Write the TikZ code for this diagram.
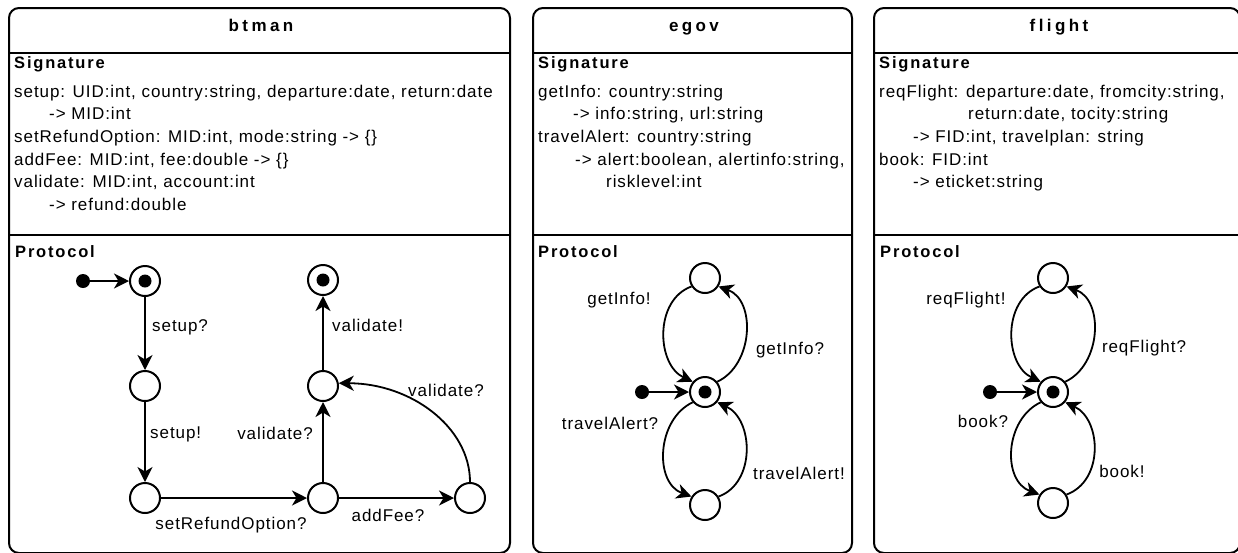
\documentclass[tikz,border=0pt]{standalone}
\usepackage{fontspec}
\setmainfont{Liberation Sans}[LetterSpace=5.5]
\usetikzlibrary{arrows.meta}
\begin{document}
\begin{tikzpicture}[x=1pt,y=1pt,
  boxline/.style={line width=2pt},
  txt/.style={anchor=west, inner sep=0pt, text height=12pt, text depth=3.5pt, font=\fontsize{17}{20}\selectfont},
  hd/.style={anchor=west, inner sep=0pt, text height=12pt, text depth=3.5pt, font=\fontsize{16.5}{20}\selectfont\bfseries\addfontfeature{LetterSpace=11}},
  ttl/.style={inner sep=0pt, text height=12pt, text depth=3.5pt, font=\fontsize{17}{20}\selectfont\bfseries\addfontfeature{LetterSpace=20}},
  lbl/.style={inner sep=0pt, text height=12pt, text depth=3.5pt, font=\fontsize{17}{20}\selectfont},
  stnode/.style={circle, draw, line width=2pt, minimum size=30pt, inner sep=0pt},
  fin/.style={stnode, path picture={\fill (path picture bounding box.center) circle (6.5pt);}},
  ini/.style={circle, fill, minimum size=14pt, inner sep=0pt},
  arr/.style={-{Stealth[length=15pt,width=15pt,inset=4.5pt]}, line width=1.8pt}
]
\useasboundingbox (0,-552) rectangle (1238,0);

% ---------- boxes ----------
\draw[boxline, rounded corners=10pt] (9,-8) rectangle (510,-553);
\draw[boxline] (9,-53) -- (510,-53);
\draw[boxline] (9,-235) -- (510,-235);

\draw[boxline, rounded corners=10pt] (533,-8) rectangle (852,-553);
\draw[boxline] (533,-53) -- (852,-53);
\draw[boxline] (533,-235) -- (852,-235);

\draw[boxline, rounded corners=10pt] (874,-8) rectangle (1240,-553);
\draw[boxline] (874,-53) -- (1240,-53);
\draw[boxline] (874,-235) -- (1240,-235);

% ---------- btman text ----------
\node[ttl] (t1) at (261,-27) {btman};
\node[hd] (sg1) at (14,-64) {Signature};
\node[txt] (l11) at (14,-93) {setup: UID:int, country:string, departure:date, return:date};
\node[txt] (l12) at (49,-115.6) {-> MID:int};
\node[txt] (l13) at (14,-138.2) {setRefundOption: MID:int, mode:string -> \{\}};
\node[txt] (l14) at (14,-160.8) {addFee: MID:int, fee:double -> \{\}};
\node[txt] (l15) at (14,-183.4) {validate: MID:int, account:int};
\node[txt] (l16) at (49,-206) {-> refund:double};
\node[hd] (pr1) at (15,-253) {Protocol};

% ---------- btman protocol ----------
\node[ini] (i1) at (83,-281) {};
\node[fin] (a0) at (145,-281) {};
\node[stnode] (a1) at (145,-386) {};
\node[stnode] (a2) at (145,-498) {};
\node[stnode] (a3) at (323,-498) {};
\node[stnode] (a4) at (323,-386) {};
\node[fin] (a5) at (323,-280) {};
\node[stnode] (a6) at (470,-498) {};
\draw[arr] (i1) -- (a0);
\draw[arr] (a0) -- (a1);
\draw[arr] (a1) -- (a2);
\draw[arr] (a2) -- (a3);
\draw[arr] (a3) -- (a6);
\draw[arr] (a3) -- (a4);
\draw[arr] (a4) -- (a5);
\draw[arr] (a6.north) .. controls +(0,55) and +(72,0) .. (a4.10);
\node[lbl, anchor=west] (e1) at (152,-327) {setup?};
\node[lbl, anchor=west] (e2) at (150,-434) {setup!};
\node[lbl] (e3) at (231,-525) {setRefundOption?};
\node[lbl] (e4) at (388,-517) {addFee?};
\node[lbl, anchor=east] (e5) at (313,-435) {validate?};
\node[lbl, anchor=west] (e6) at (332,-327) {validate!};
\node[lbl] (e7) at (446,-392) {validate?};

% ---------- egov text ----------
\node[ttl] (t2) at (694,-27) {egov};
\node[hd] (sg2) at (538,-64) {Signature};
\node[txt] (l21) at (538,-93) {getInfo: country:string};
\node[txt] (l22) at (573,-115.6) {-> info:string, url:string};
\node[txt] (l23) at (538,-138.2) {travelAlert: country:string};
\node[txt] (l24) at (575,-160.8) {-> alert:boolean, alertinfo:string,};
\node[txt] (l25) at (606,-183.4) {risklevel:int};
\node[hd] (pr2) at (538,-253) {Protocol};

% ---------- egov protocol ----------
\node[ini] (i2) at (642,-392) {};
\node[fin] (c2) at (705,-392) {};
\node[stnode] (u2) at (705,-278) {};
\node[stnode] (b2) at (705,-505) {};
\draw[arr] (i2) -- (c2);
\draw[arr] (u2.212) .. controls +(200:40) and +(155:40) .. (c2.140);
\draw[arr] (c2.40) .. controls +(25:40) and +(-20:40) .. (u2.-32);
\draw[arr] (c2.220) .. controls +(205:40) and +(160:40) .. (b2.148);
\draw[arr] (b2.32) .. controls +(20:40) and +(-25:40) .. (c2.-40);
\node[lbl] (f1) at (619,-300) {getInfo!};
\node[lbl] (f2) at (790,-350) {getInfo?};
\node[lbl] (f3) at (610,-425) {travelAlert?};
\node[lbl] (f4) at (799,-475) {travelAlert!};

% ---------- flight text ----------
\node[ttl] (t3) at (1059,-27) {flight};
\node[hd] (sg3) at (879,-64) {Signature};
\node[txt] (l31) at (879,-93) {reqFlight: departure:date, fromcity:string,};
\node[txt] (l32) at (968,-115.6) {return:date, tocity:string};
\node[txt] (l33) at (913,-138.2) {-> FID:int, travelplan: string};
\node[txt] (l34) at (879,-160.8) {book: FID:int};
\node[txt] (l35) at (913,-183.4) {-> eticket:string};
\node[hd] (pr3) at (880,-253) {Protocol};

% ---------- flight protocol ----------
\node[ini] (i3) at (990,-392) {};
\node[fin] (c3) at (1053,-392) {};
\node[stnode] (u3) at (1053,-278) {};
\node[stnode] (b3) at (1053,-503) {};
\draw[arr] (i3) -- (c3);
\draw[arr] (u3.212) .. controls +(200:40) and +(155:40) .. (c3.140);
\draw[arr] (c3.40) .. controls +(25:40) and +(-20:40) .. (u3.-32);
\draw[arr] (c3.220) .. controls +(205:40) and +(160:40) .. (b3.148);
\draw[arr] (b3.32) .. controls +(20:40) and +(-25:40) .. (c3.-40);
\node[lbl] (g1) at (966,-300) {reqFlight!};
\node[lbl] (g2) at (1144,-348) {reqFlight?};
\node[lbl] (g3) at (983,-423) {book?};
\node[lbl] (g4) at (1122,-473) {book!};
\end{tikzpicture}
\end{document}
